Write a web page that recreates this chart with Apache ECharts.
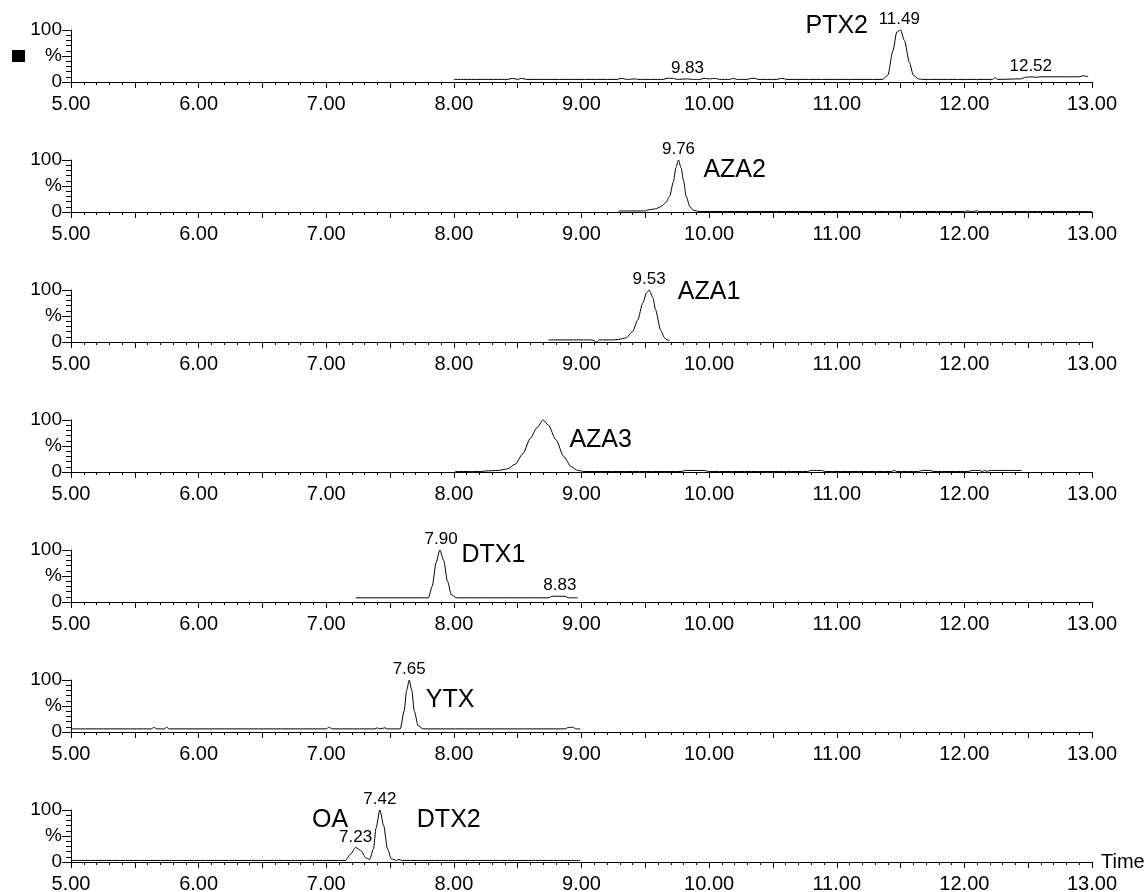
<!DOCTYPE html>
<html><head><meta charset="utf-8">
<script src="https://cdn.jsdelivr.net/npm/echarts@6/dist/echarts.min.js"></script>
<style>html,body{margin:0;padding:0;background:#fff}#c{width:1147px;height:892px}</style>
</head><body><div id="c"></div>
<script>
// retention time range and tick labels
const xTickLabels = ['5.00','6.00','7.00','8.00','9.00','10.00','11.00','12.00','13.00'];
const yTickLabels = {0:'0', 50:'%', 100:'100'};

// traces: [time, relative intensity %]
const ptx2 = [[8.00,5],[8.42,5],[8.46,7],[8.5,5],[8.53,7],[8.57,5],[9.28,5],[9.31,7],[9.36,5],[9.42,6],[9.44,5],[9.64,5],[9.67,7],[9.72,7],[9.75,5],[9.83,6],[9.87,5],[9.93,5],[9.96,7],[10.0,6],[10.05,7],[10.08,5],[10.16,5],[10.19,7],[10.22,5],[10.3,5],[10.33,7],[10.36,7],[10.38,5],[10.53,5],[10.57,7],[10.61,5],[11.36,5],[11.40,13],[11.44,60],[11.47,96],[11.5,100],[11.53,80],[11.57,37],[11.6,13],[11.64,6],[11.67,5],[12.22,5],[12.24,8],[12.26,5],[12.44,6],[12.48,9],[12.52,10],[12.56,9],[12.6,10],[12.9,10],[12.93,12],[12.97,10]];
const aza2 = [[9.29,2],[9.5,2],[9.52,4],[9.58,6],[9.62,10],[9.66,18],[9.69,30],[9.72,58],[9.74,85],[9.76,100],[9.78,85],[9.8,60],[9.82,30],[9.85,10],[9.88,3],[9.92,1],[12.0,1],[12.02,2],[12.05,1],[12.1,2],[12.12,1],[13.0,1]];
const aza1 = [[8.74,4],[9.08,4],[9.12,0],[9.14,4],[9.25,4],[9.29,5],[9.35,8],[9.4,20],[9.44,42],[9.48,75],[9.51,95],[9.53,100],[9.56,85],[9.58,62],[9.62,23],[9.65,8],[9.67,4],[9.69,3]];
const aza3 = [[8.01,1],[8.22,1],[8.25,2],[8.35,3],[8.42,6],[8.48,15],[8.54,35],[8.6,65],[8.65,85],[8.7,100],[8.74,90],[8.8,62],[8.86,30],[8.92,10],[8.97,3],[9.02,1],[9.78,1],[9.82,3],[9.96,3],[10.0,1],[10.77,1],[10.8,3],[10.88,3],[10.91,1],[11.43,1],[11.45,3],[11.47,1],[11.64,1],[11.67,3],[11.73,3],[11.76,1],[12.03,1],[12.06,3],[12.12,3],[12.14,1],[12.16,3],[12.18,1],[12.2,3],[12.45,3]];
const dtx1 = [[7.23,8],[7.80,8],[7.83,30],[7.86,75],[7.89,100],[7.92,80],[7.95,40],[7.98,14],[8.02,8],[8.74,8],[8.77,11],[8.87,11],[8.9,8],[8.97,8]];
const ytx = [[5.0,6],[5.63,6],[5.65,9],[5.67,6],[5.73,6],[5.75,9],[5.77,6],[7.0,6],[7.02,9],[7.05,6],[7.38,6],[7.4,8],[7.42,6],[7.46,8],[7.48,6],[7.58,6],[7.61,40],[7.63,80],[7.65,100],[7.67,80],[7.69,40],[7.72,12],[7.76,6],[8.87,6],[8.9,9],[8.93,9],[8.96,6],[8.99,6]];
const oaDtx2 = [[5.0,3],[7.15,3],[7.19,15],[7.23,28],[7.27,22],[7.31,8],[7.34,5],[7.37,25],[7.39,65],[7.42,100],[7.45,70],[7.48,25],[7.51,6],[7.55,3],[7.57,5],[7.59,3],[8.99,3]];

const traces = [ptx2, aza2, aza1, aza3, dtx1, ytx, oaDtx2];
// compound names: [time, level, text]
const compoundNames = [
  [[11.0,100,'PTX2']],
  [[10.2,81,'AZA2']],
  [[10.0,96,'AZA1']],
  [[9.15,62,'AZA3']],
  [[8.31,90,'DTX1']],
  [[7.97,62,'YTX']],
  [[7.03,81,'OA'],[7.96,81,'DTX2']]
];
// peak labels: [time, intensity, text]
const peakLabels = [
  [[9.83,6,'9.83'],[11.49,100,'11.49'],[12.52,10,'12.52']],
  [[9.76,100,'9.76']],
  [[9.53,100,'9.53']],
  [],
  [[7.90,100,'7.90'],[8.83,11,'8.83']],
  [[7.65,100,'7.65']],
  [[7.23,28,'7.23'],[7.42,100,'7.42']]
];

const FONT = 'Liberation Sans, Arial, sans-serif';
const grids = [], xAxes = [], yAxes = [], series = [];
traces.forEach((tr, i) => {
  grids.push({left: 71, right: 55, top: 30 + 130 * i, height: 52, outerBoundsMode: 'none', containLabel: false});
  xAxes.push({
    gridIndex: i, type: 'value', min: 5, max: 13, interval: 0.5,
    name: i === traces.length - 1 ? 'Time' : '',
    nameLocation: 'end', nameGap: 9,
    nameTextStyle: {fontSize: 20, color: '#000', fontFamily: FONT, verticalAlign: 'middle'},
    axisLine: {onZero: false, lineStyle: {color: '#000', width: 1}},
    axisTick: {length: 6, lineStyle: {color: '#000'}},
    minorTick: {show: true, splitNumber: 5, length: 3, lineStyle: {color: '#000'}},
    splitLine: {show: false}, minorSplitLine: {show: false},
    axisLabel: {
      formatter: v => Number.isInteger(v) ? xTickLabels[v - 5] : '',
      fontSize: 20, color: '#000', fontFamily: FONT, margin: 12,
      showMinLabel: true, showMaxLabel: true, hideOverlap: false
    }
  });
  yAxes.push({
    gridIndex: i, type: 'value', min: 0, max: 100, interval: 50,
    axisLine: {show: true, lineStyle: {color: '#000', width: 1}},
    axisTick: {show: true, length: 9, lineStyle: {color: '#000'}},
    minorTick: {show: true, splitNumber: 5, length: 5, lineStyle: {color: '#000'}},
    splitLine: {show: false}, minorSplitLine: {show: false},
    axisLabel: {formatter: v => yTickLabels[v], fontSize: 19, color: '#000', fontFamily: FONT, margin: 9}
  });
  const marks = [];
  compoundNames[i].forEach(c => marks.push({
    coord: [c[0], c[1]], symbol: 'circle', symbolSize: 0,
    label: {show: true, position: 'inside', offset: i === 0 ? [0, -4] : [0, 0], formatter: c[2], fontSize: 25, color: '#000', fontFamily: FONT}
  }));
  peakLabels[i].forEach(p => marks.push({
    coord: [p[0], p[1]], symbol: 'circle', symbolSize: 0,
    label: {show: true, position: 'top', distance: 2, formatter: p[2], fontSize: 17, color: '#000', fontFamily: FONT}
  }));
  series.push({
    type: 'line', xAxisIndex: i, yAxisIndex: i, data: tr,
    showSymbol: false, symbol: 'none', clip: false,
    smooth: 0.25, smoothMonotone: 'x',
    lineStyle: {color: '#000', width: 1},
    markPoint: {data: marks, animation: false, silent: true}
  });
});

const chart = echarts.init(document.getElementById('c'), null, {renderer: 'canvas'});
chart.setOption({
  animation: false,
  backgroundColor: '#fff',
  textStyle: {fontFamily: FONT},
  grid: grids, xAxis: xAxes, yAxis: yAxes, series: series,
  graphic: [{type: 'rect', left: 12, top: 50, shape: {width: 13, height: 12}, style: {fill: '#000'}}]
});
</script></body></html>
